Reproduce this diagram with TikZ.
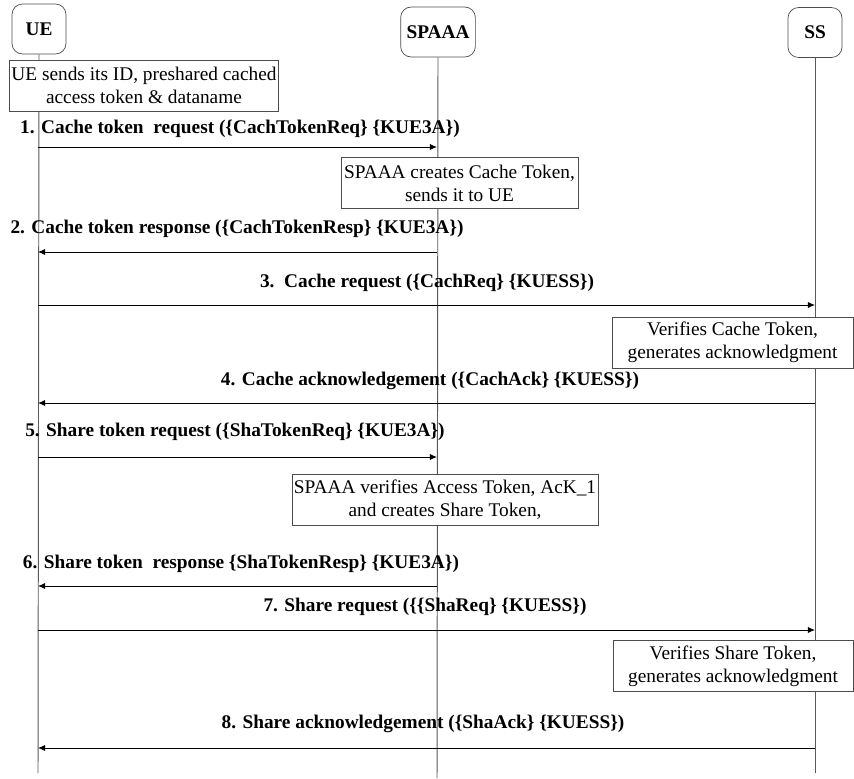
\documentclass[tikz,border=0pt]{standalone}
\usepackage{fontspec}
\setmainfont{Liberation Serif}
\usetikzlibrary{arrows.meta}

\begin{document}
\begin{tikzpicture}[x=0.02cm, y=-0.02cm,
    actor/.style={draw=black!70, rounded corners=6pt, minimum height=1cm, font=\fontsize{11}{13}\selectfont\bfseries},
    note/.style={draw=black!70, align=center, minimum height=1.02cm, inner sep=1pt, font=\fontsize{11}{13}\selectfont},
    msg/.style={font=\fontsize{11}{12}\selectfont\bfseries},
    lifeline/.style={draw=black!65, line width=.55pt},
    call/.style={-{Latex[length=4pt,width=3.5pt]}, line width=.55pt, black}
        ]

    \path [use as bounding box] (0,0) rectangle (854,778);

    % participants
    \node [actor, minimum width=1.08cm] (UE) at (39,29) {UE};
    \node [actor, minimum width=1.28cm] (SPAAA) at (438,32) {SPAAA};
    \node [actor, minimum width=1.08cm] (SS) at (815,32.5) {SS};

    % lifeline ends
    \coordinate (UEend) at (38,773);
    \coordinate (SPend) at (437,778);
    \coordinate (SSend) at (815,773);

    \draw [lifeline] (UE.south) -- (UEend);
    \draw [lifeline] (SPAAA.south) -- (SPend);
    \draw [lifeline] (SS.south) -- (SSend);

    % message rows on the lifelines
    \coordinate (U1) at (38,147);  \coordinate (P1) at (437,147);
    \coordinate (U2) at (38,252);  \coordinate (P2) at (437,252);
    \coordinate (U3) at (38,305);  \coordinate (S3) at (815,305);
    \coordinate (U4) at (38,403);  \coordinate (S4) at (815,403);
    \coordinate (U5) at (38,457);  \coordinate (P5) at (437,457);
    \coordinate (U6) at (38,586);  \coordinate (P6) at (437,586);
    \coordinate (U7) at (38,630);  \coordinate (S7) at (815,630);
    \coordinate (U8) at (38,748);  \coordinate (S8) at (815,748);

    % notes
    \node [note, fill=white, minimum width=5.28cm] (n1) at (144,85.5)
        {UE sends its ID, preshared cached\\access token \& dataname};
    \node [note, fill=white, minimum width=4.74cm] (n2) at (459.5,183)
        {SPAAA creates Cache Token,\\sends it to UE};
    \node [note, fill=white, minimum width=4.82cm] (n3) at (732.5,342.5)
        {Verifies Cache Token,\\generates acknowledgment};
    \node [note, fill=white, minimum width=6.12cm] (n4) at (445,500)
        {SPAAA verifies Access Token, AcK\_1\\and creates Share Token,};
    \node [note, fill=white, minimum width=4.8cm] (n5) at (733,666)
        {Verifies Share Token,\\generates acknowledgment};

    % messages
    \node [msg] (m1) at (240,129) {1. Cache token\ \ request (\{CachTokenReq\} \{KUE3A\})};
    \draw [call] (U1) -- (P1);

    \node [msg] (m2) at (237,229) {2. Cache token response (\{CachTokenResp\} \{KUE3A\})};
    \draw [call] (P2) -- (U2);

    \node [msg] (m3) at (427,283) {3.\ \ Cache request (\{CachReq\} \{KUESS\})};
    \draw [call] (U3) -- (S3);

    \node [msg] (m4) at (430,381) {4. Cache acknowledgement (\{CachAck\} \{KUESS\})};
    \draw [call] (S4) -- (U4);

    \node [msg] (m5) at (235,432) {5. Share token request (\{ShaTokenReq\} \{KUE3A\})};
    \draw [call] (U5) -- (P5);

    \node [msg] (m6) at (241,564) {6. Share token\ \ response \{ShaTokenResp\} \{KUE3A\})};
    \draw [call] (P6) -- (U6);

    \node [msg] (m7) at (425,607) {7. Share request (\{\{ShaReq\} \{KUESS\})};
    \draw [call] (U7) -- (S7);

    \node [msg] (m8) at (423,724) {8. Share acknowledgement (\{ShaAck\} \{KUESS\})};
    \draw [call] (S8) -- (U8);

\end{tikzpicture}
\end{document}
